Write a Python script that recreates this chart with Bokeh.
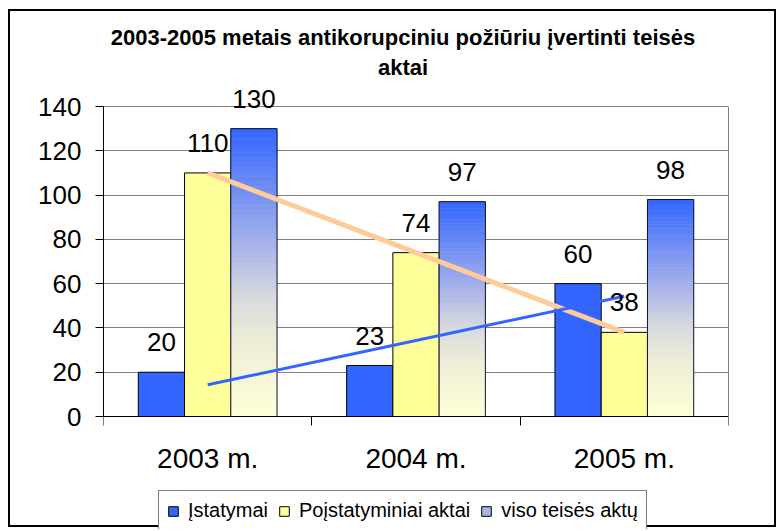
import numpy as np
from bokeh.plotting import figure
from bokeh.models import (ColumnDataSource, FixedTicker, Legend, LegendItem,
                          LabelSet, Range1d, LinearAxis)
from bokeh.core.properties import value
from bokeh.embed import file_html
from bokeh.resources import INLINE

# ---- data ----
categories = ["2003 m.", "2004 m.", "2005 m."]
istatymai = [20, 23, 60]
poistatyminiai = [110, 74, 38]
viso = [130, 97, 98]
series_names = ["Įstatymai", "Poįstatyminiai aktai", "viso teisės aktų"]
y_ticks = [0, 20, 40, 60, 80, 100, 120, 140]
title_lines = ["2003-2005 metais antikorupciniu požiūriu įvertinti teisės", "aktai"]

FONT = "Liberation Sans"
BLUE = "#3366FF"
YELLOW = "#FFFF99"
ORANGE = "#FFCC99"

n = len(categories)
idx = np.arange(n)
centers = idx + 0.5
bw = 0.222
YMAX = y_ticks[-1]

# layout (pixels): canvas height, plot-area top and bottom inside the canvas
H, W = 518, 768
PLOT_TOP, PLOT_BOT = 95, 405
ppu = (PLOT_BOT - PLOT_TOP) / YMAX
YTOP = YMAX + PLOT_TOP / ppu
YBOT = -(H - PLOT_BOT) / ppu

p = figure(width=W, height=H, x_range=Range1d(0, n), y_range=Range1d(YBOT, YTOP),
           output_backend="svg", toolbar_location=None, title=None,
           min_border_left=93, min_border_right=50, min_border_top=0,
           min_border_bottom=0)
p.styles = {"border": "2px solid black", "margin-left": "8px", "margin-top": "9px"}
p.background_fill_color = "white"
p.border_fill_color = "white"
p.outline_line_color = None

# grid
p.xgrid.visible = False
p.ygrid.grid_line_color = "#808080"
p.ygrid.grid_line_width = 1

# left value axis
ya = p.yaxis[0]
ya.ticker = FixedTicker(ticks=y_ticks, minor_ticks=[])
ya.bounds = (0, YMAX)
ya.axis_line_color = "black"
ya.major_tick_line_color = "black"
ya.major_tick_out = 8
ya.major_tick_in = 0
ya.major_label_standoff = 14
ya.major_label_text_font = FONT
ya.major_label_text_font_size = "26px"
ya.major_label_text_color = "black"

# right border of plot area
ra = LinearAxis(ticker=FixedTicker(ticks=[], minor_ticks=[]), bounds=(0, YMAX),
                axis_line_color="#808080", major_label_text_font_size="0px",
                major_tick_line_color=None, minor_tick_line_color=None)
p.add_layout(ra, "right")

# category axis drawn at y = 0
xa = p.xaxis[0]
xa.fixed_location = 0
xa.ticker = FixedTicker(ticks=list(centers), minor_ticks=list(range(n + 1)))
xa.major_label_overrides = {float(c): lab for c, lab in zip(centers, categories)}
xa.axis_line_color = "black"
xa.major_tick_out = 0
xa.major_tick_in = 0
xa.minor_tick_out = 9
xa.minor_tick_in = 0
xa.minor_tick_line_color = "black"
xa.major_label_standoff = 17
xa.major_label_text_font = FONT
xa.major_label_text_font_size = "28px"
xa.major_label_text_color = "black"

# bars
src1 = ColumnDataSource(dict(x=centers - bw, top=istatymai))
src2 = ColumnDataSource(dict(x=centers, top=poistatyminiai))
src3 = ColumnDataSource(dict(x=centers + bw, top=viso))
r1 = p.vbar(x="x", top="top", width=bw, source=src1, fill_color=BLUE,
            line_color="black", line_width=1)
r2 = p.vbar(x="x", top="top", width=bw, source=src2, fill_color=YELLOW,
            line_color="black", line_width=1)

# legend proxy for gradient series (zero-height bars at the baseline)
r3 = p.vbar(x=list(centers + bw), top=[0] * n, width=bw, fill_color="#A9B3E0",
            line_color="black", line_width=1)

# gradient bars: slices coloured from pale yellow (bottom) to blue (top)
stops_t = [0.0, 0.25, 0.42, 0.58, 1.0]
stops_c = [(255, 255, 214), (238, 238, 216), (214, 217, 222), (172, 182, 232), (51, 102, 255)]

def grad(t):
    rgb = [int(round(np.interp(t, stops_t, [c[k] for c in stops_c]))) for k in range(3)]
    return "#%02x%02x%02x" % tuple(rgb)

N = 60
gl, gr, gb, gt, gc = [], [], [], [], []
for xc, v in zip(centers + bw, viso):
    for k in range(N):
        gl.append(xc - bw / 2)
        gr.append(xc + bw / 2)
        gb.append(v * k / N)
        gt.append(v * (k + 1) / N)
        gc.append(grad((k + 0.5) / N))
p.quad(left=gl, right=gr, bottom=gb, top=gt, fill_color=gc, line_color=gc, line_width=0.6)
p.vbar(x="x", top="top", width=bw, source=src3, fill_alpha=0, line_color="#111133", line_width=1)

# trend lines (linear fits of the series)
tr2 = np.polyval(np.polyfit(idx, poistatyminiai, 1), idx)
tr1 = np.polyval(np.polyfit(idx, istatymai, 1), idx)
p.line(x=centers, y=tr2, line_color=ORANGE, line_width=5)
p.line(x=centers, y=tr1, line_color=BLUE, line_width=3)

# data labels
for xs, vals in [(centers - bw, istatymai), (centers, poistatyminiai), (centers + bw, viso)]:
    ls = ColumnDataSource(dict(x=xs, y=vals, t=[str(v) for v in vals]))
    p.add_layout(LabelSet(x="x", y="y", text="t", source=ls, y_offset=21,
                          text_align="center", text_baseline="alphabetic",
                          text_font=value(FONT), text_font_size=value("26px"),
                          text_color="black"))

# chart title (two lines, centred on the chart)
ts = ColumnDataSource(dict(x=[n / 2, n / 2], y=[YMAX, YMAX], t=title_lines, off=[62, 32]))
p.add_layout(LabelSet(x="x", y="y", text="t", source=ts, y_offset="off", x_offset=-13,
                      text_align="center", text_baseline="alphabetic",
                      text_font=value(FONT), text_font_size=value("22px"),
                      text_font_style="bold", text_color="black"))

legend = Legend(items=[LegendItem(label=series_names[0], renderers=[r1]),
                       LegendItem(label=series_names[1], renderers=[r2]),
                       LegendItem(label=series_names[2], renderers=[r3])],
                orientation="horizontal", location=(55, -2),
                border_line_color="black", border_line_width=1,
                label_text_font=FONT, label_text_font_size="20px", label_text_color="black",
                glyph_width=12, glyph_height=12, label_standoff=9,
                spacing=10, padding=8, margin=0, background_fill_alpha=1)
p.add_layout(legend)

open("out.html", "w").write(file_html(p, INLINE))
